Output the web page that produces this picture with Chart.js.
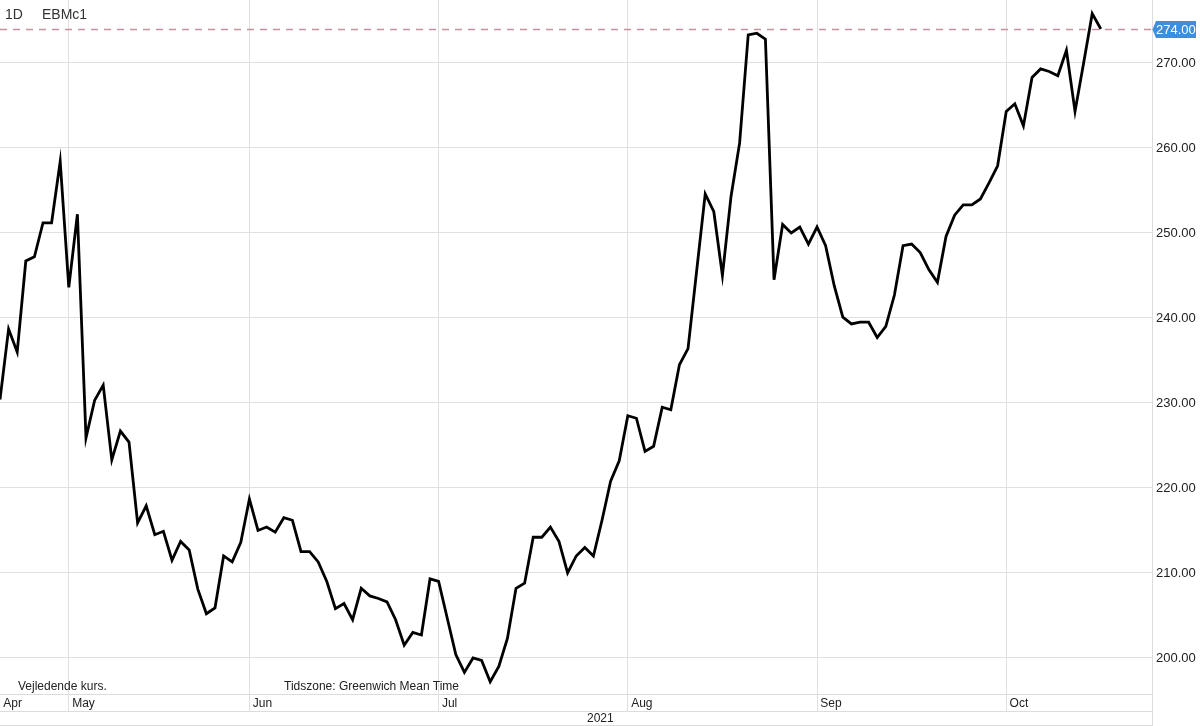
<!DOCTYPE html>
<html><head><meta charset="utf-8">
<script src="https://cdn.jsdelivr.net/npm/chart.js@4"></script>
<style>
html,body{margin:0;padding:0;background:#fff;}
#wrap{position:relative;width:1200px;height:726px;font-family:"Liberation Sans",Arial,sans-serif;overflow:hidden;}
canvas{position:absolute;left:0;top:0;}
.lbl{position:absolute;color:#222;white-space:nowrap;line-height:14px;font-size:12px;}
</style></head><body>
<div id="wrap">
<canvas id="c" width="1200" height="726"></canvas>
<div class="lbl" id="tf" style="left:5px;top:6px;font-size:14px;line-height:16px;color:#333;">1D</div>
<div class="lbl" id="ts" style="left:42px;top:6px;font-size:14px;line-height:16px;color:#333;">EBMc1</div>
<div class="lbl" id="n1" style="left:18px;top:679px;">Vejledende kurs.</div>
<div class="lbl" id="n2" style="left:284px;top:679px;">Tidszone: Greenwich Mean Time</div>
<div class="lbl" id="yr" style="left:587px;top:711px;">2021</div>
</div>
<script>
const FONT = '"Liberation Sans", Arial, sans-serif';
const timeframe = '1D';
const symbol = 'EBMc1';
const yearLabel = '2021';
const monthLabels = ['Apr','May','Jun','Jul','Aug','Sep','Oct'];
const monthStartIdx = [0, 8, 29, 51, 73, 95, 117];
const yTicks = [200, 210, 220, 230, 240, 250, 260, 270];
const lastPrice = 274.00;
const prices = [
 230.4, 238.7, 236.0, 246.7, 247.2, 251.2, 251.2, 258.4, 243.6, 252.2,
 225.9, 230.3, 232.1, 223.3, 226.7, 225.4, 215.9, 217.9, 214.5, 214.9,
 211.5, 213.7, 212.7, 208.1, 205.2, 205.9, 212.0, 211.3, 213.6, 218.7,
 215.0, 215.4, 214.8, 216.5, 216.2, 212.5, 212.5, 211.3, 209.0, 205.8,
 206.4, 204.5, 208.2, 207.3, 207.0, 206.6, 204.5, 201.5, 203.0, 202.7,
 209.3, 209.0, 204.7, 200.4, 198.3, 200.0, 199.7, 197.2, 199.0, 202.3,
 208.2, 208.8, 214.2, 214.2, 215.4, 213.7, 210.0, 212.0, 213.0, 212.0,
 216.2, 220.8, 223.2, 228.5, 228.2, 224.3, 224.9, 229.5, 229.2, 234.5,
 236.4, 245.5, 254.6, 252.5, 245.0, 254.3, 260.6, 273.3, 273.5, 272.8,
 244.5, 251.0, 250.0, 250.7, 248.7, 250.7, 248.5, 243.8, 240.1, 239.3,
 239.5, 239.5, 237.7, 239.0, 242.7, 248.5, 248.7, 247.7, 245.7, 244.2,
 249.6, 252.1, 253.3, 253.3, 254.0, 255.9, 257.9, 264.3, 265.2, 262.6,
 268.3, 269.3, 269.0, 268.5, 271.5, 264.3, 270.0, 275.8, 274.0
];

document.getElementById('tf').textContent = timeframe;
document.getElementById('ts').textContent = symbol;
document.getElementById('yr').textContent = yearLabel;

const GRID = '#e0e0e0';

const decor = {
  id: 'decor',
  beforeDatasetsDraw(chart) {
    const {ctx, chartArea: a, scales: {y}} = chart;
    const py = Math.round(y.getPixelForValue(lastPrice)) + 0.5;
    ctx.save();
    ctx.strokeStyle = '#c6919a';
    ctx.lineWidth = 1.5;
    ctx.setLineDash([7, 6]);
    ctx.beginPath(); ctx.moveTo(a.left, py); ctx.lineTo(a.right, py); ctx.stroke();
    ctx.restore();
  },
  afterDraw(chart) {
    const {ctx, chartArea: a, scales: {y}} = chart;
    ctx.save();
    ctx.strokeStyle = '#dcdcdc';
    ctx.lineWidth = 1;
    ctx.beginPath();
    ctx.moveTo(a.left, a.bottom + 17.5); ctx.lineTo(a.right, a.bottom + 17.5);
    ctx.moveTo(a.left, 725.5); ctx.lineTo(a.right, 725.5);
    ctx.moveTo(a.right + 0.5, a.bottom); ctx.lineTo(a.right + 0.5, 726);
    ctx.stroke();
    const py = Math.round(y.getPixelForValue(lastPrice));
    ctx.fillStyle = '#3d8fde';
    ctx.beginPath();
    ctx.moveTo(a.right + 0.5, py + 0.5);
    ctx.lineTo(a.right + 4, py - 8);
    ctx.lineTo(1196, py - 8);
    ctx.lineTo(1196, py + 9);
    ctx.lineTo(a.right + 4, py + 9);
    ctx.closePath();
    ctx.fill();
    ctx.fillStyle = '#ffffff';
    ctx.font = '13px ' + FONT;
    ctx.textBaseline = 'middle';
    ctx.textAlign = 'left';
    ctx.fillText(lastPrice.toFixed(2), a.right + 4, py + 1);
    ctx.restore();
  }
};

new Chart(document.getElementById('c'), {
  type: 'line',
  data: {
    datasets: [{
      data: prices.map((v, i) => ({x: i, y: v})),
      borderColor: '#000000',
      borderWidth: 2.8,
      pointRadius: 0,
      tension: 0,
      fill: false
    }]
  },
  options: {
    responsive: false,
    animation: false,
    devicePixelRatio: 1,
    layout: {padding: 0},
    plugins: {legend: {display: false}, tooltip: {enabled: false}},
    scales: {
      x: {
        type: 'linear', position: 'bottom', min: 0, max: 133.95,
        afterBuildTicks: s => { s.ticks = monthStartIdx.map(v => ({value: v})); },
        afterFit: s => { s.height = 32; s.paddingLeft = 0; s.paddingRight = 0; },
        grid: {
          color: ctx => ctx.index === 0 ? 'rgba(0,0,0,0)' : GRID,
          tickColor: ctx => ctx.index === 0 ? 'rgba(0,0,0,0)' : GRID,
          drawTicks: true, tickLength: 17
        },
        border: {display: true, color: '#dcdcdc'},
        ticks: {
          align: 'start', padding: -15, autoSkip: false, maxRotation: 0,
          color: '#222', font: {size: 12, family: FONT},
          callback: (v, i) => ' ' + monthLabels[i]
        }
      },
      y: {
        position: 'right', min: 195.76, max: 277.41,
        afterBuildTicks: s => { s.ticks = yTicks.map(v => ({value: v})); },
        afterFit: s => { s.width = 48; s.paddingTop = 0; s.paddingBottom = 0; },
        grid: {color: GRID, drawTicks: false},
        border: {display: true, color: '#dcdcdc'},
        ticks: {
          padding: 4, color: '#222', font: {size: 13, family: FONT},
          callback: v => Number(v).toFixed(2)
        }
      }
    }
  },
  plugins: [decor]
});
</script>
</body></html>
